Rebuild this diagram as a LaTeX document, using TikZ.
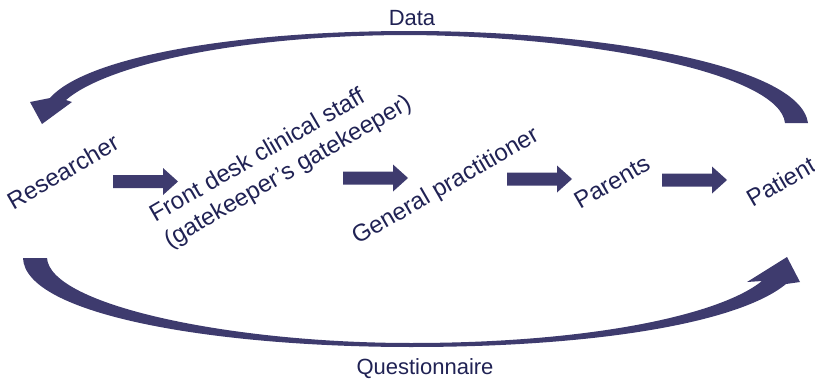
\documentclass[tikz,border=0pt]{standalone}
\usepackage{fontspec}
\setmainfont{Liberation Sans}
\definecolor{arrowblue}{RGB}{62,59,110}
\definecolor{textblue}{RGB}{32,34,84}
\tikzset{
  lbl/.style={text=textblue,font=\fontsize{24}{29}\selectfont,inner sep=0pt},
  flat/.style={lbl,font=\fontsize{22}{26}\selectfont,anchor=base},
  tilt/.style={lbl,rotate=30,anchor=base},
  blk/.style={fill=arrowblue,draw=none}
}
\newcommand{\blockarrow}[1]{%
  \fill[blk] ([yshift=6.5pt]#1) -- ++(50,0) -- ++(0,-7) -- ++(15,13.5)
    -- ++(-15,13.5) -- ++(0,-7) -- ++(-50,0) -- cycle;}
\begin{document}
\begin{tikzpicture}[x=1pt,y=-1pt]
                \useasboundingbox (0,0) rectangle (815,380);
                \node[flat] (data) at (412,26) {Data};
                \node[flat] (quest) at (425,374) {Questionnaire};
                \node[tilt] (res) at (67,179) {Researcher};
                \node[lbl,rotate=30,align=left] (desk) at (281,160) {Front desk clinical staff\\(gatekeeper’s gatekeeper)};
                \node[tilt] (gp) at (449,192) {General practitioner};
                \node[tilt] (par) at (616,189) {Parents};
                \node[tilt] (pat) at (785,189) {Patient};
                \coordinate (a1) at (113,181.5);
                \coordinate (a2) at (343,178);
                \coordinate (a3) at (507,179);
                \coordinate (a4) at (662,180);
                \foreach \a in {a1,a2,a3,a4}
                    \blockarrow{\a};
                \fill[blk] (808,123) .. controls (800,65) and (600,31) .. (411,31)
                    .. controls (230,31) and (85,58) .. (50,98)
                    -- (30,102) -- (42,124) -- (72,102) -- (66,100)
                    .. controls (105,66) and (235,35) .. (411,35)
                    .. controls (600,37) and (780,75) .. (785,123) -- cycle;
                \fill[blk] (23,258) .. controls (25,315) and (215,347) .. (411,347)
                    .. controls (600,347) and (740,322) .. (786,284)
                    -- (800,282) -- (787,257) -- (747,282) -- (762,281)
                    .. controls (720,315) and (590,343) .. (411,343)
                    .. controls (230,343) and (50,305) .. (47,258) -- cycle;
            \end{tikzpicture}
\end{document}
